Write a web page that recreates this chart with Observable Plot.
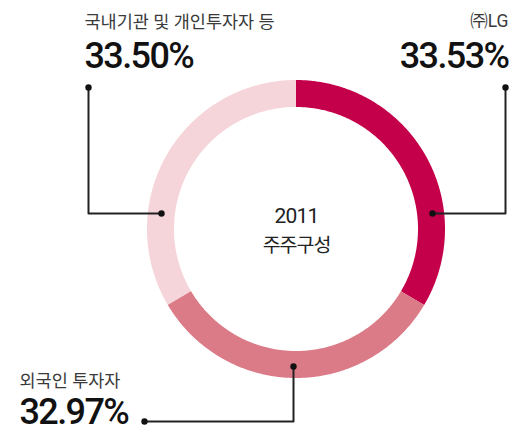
<!DOCTYPE html>
<html><head><meta charset="utf-8">
<script src="https://cdn.jsdelivr.net/npm/d3@7"></script>
<script src="https://cdn.jsdelivr.net/npm/@observablehq/plot@0.6"></script>
<style>
html,body{margin:0;padding:0;background:#fff;}
#chart{width:513px;height:431px;}
</style>
</head><body><div id="chart"></div>
<script>
// Data
const categories = ["㈜LG", "외국인 투자자", "국내기관 및 개인투자자 등"];
const shares = [33.53, 32.97, 33.50];
const valueLabels = ["33.53%", "32.97%", "33.50%"];
const colors = ["#C5004B", "#DC7B88", "#F5D5D9"];
const centerLines = ["2011", "주주구성"];

// Layout (pixels relative to donut centre, y downwards)
const R_OUT = 149, R_IN = 122;
const leaders = [
  [[136, -16], [209, -16], [209, -142]],
  [[-3, 137], [-3, 192], [-152, 192]],
  [[-135, -16], [-208, -16], [-208, -142]]
];
const labelPos = [
  {x: 212, y: -203, vy: -162, anchor: "end"},
  {x: -277, y: 157, vy: 194, anchor: "start"},
  {x: -212, y: -202, vy: -162, anchor: "start"}
];

// Build ring segments
const total = d3.sum(shares);
const ring = [];
let acc = 0;
categories.forEach((c, i) => {
  const a0 = acc / total * 2 * Math.PI;
  acc += shares[i];
  const a1 = acc / total * 2 * Math.PI;
  const n = Math.max(2, Math.ceil((a1 - a0) / (Math.PI / 360)));
  for (let k = 0; k <= n; k++) {
    const a = a0 + (a1 - a0) * k / n;
    ring.push({cat: c, xi: R_IN * Math.sin(a), yi: -R_IN * Math.cos(a),
               xo: R_OUT * Math.sin(a), yo: -R_OUT * Math.cos(a)});
  }
});

const leaderPts = leaders.flatMap((pts, i) => pts.map(([x, y]) => ({cat: categories[i], x, y})));
const leaderEnds = leaders.flatMap((pts, i) => [pts[0], pts[pts.length - 1]].map(([x, y]) => ({x, y})));
const labels = categories.map((c, i) => ({name: c, value: valueLabels[i], ...labelPos[i]}));

const kfont = "'Roboto', 'Noto Sans CJK KR', sans-serif";

const plot = Plot.plot({
  width: 513, height: 431,
  margin: 0,
  x: {domain: [-296, 217], range: [0, 513], axis: null},
  y: {domain: [-229, 202], range: [0, 431], axis: null},
  color: {domain: categories, range: colors},
  style: {background: "#fff"},
  marks: [
    Plot.area(ring, {x1: "xi", y1: "yi", x2: "xo", y2: "yo", z: "cat", fill: "cat"}),
    Plot.line(leaderPts, {x: "x", y: "y", z: "cat", stroke: "#222", strokeWidth: 2}),
    Plot.dot(leaderEnds, {x: "x", y: "y", r: 3.2, fill: "#111"}),
    Plot.text(labels, {x: "x", y: "y", text: "name", lineAnchor: "bottom",
      fontSize: 17.5, fill: "#3a3a3a", fontFamily: kfont}),
    Plot.text(labels, {x: "x", y: "vy", text: "value", lineAnchor: "bottom",
      fontSize: 36, fontWeight: 500, fill: "#111", fontFamily: kfont}),
    Plot.text([centerLines[0]], {x: () => 0, y: () => -7, text: d => d, lineAnchor: "bottom",
      fontSize: 21, fill: "#222", fontFamily: kfont}),
    Plot.text([centerLines[1]], {x: () => 0, y: () => 22, text: d => d, lineAnchor: "bottom",
      fontSize: 19.5, fill: "#222", fontFamily: kfont})
  ]
});
document.getElementById("chart").appendChild(plot);
// apply anchors & spacing
const svg = d3.select(plot);
svg.selectAll('g[font-size="36"] text').attr("text-anchor", d => labels[d] ? labels[d].anchor : null);
svg.selectAll('g[font-size="17.5"] text').attr("text-anchor", d => labels[d] ? labels[d].anchor : null);
svg.selectAll('g[font-size="36"]').attr("letter-spacing", "-1.6");
svg.selectAll('g[font-size="17.5"]').attr("letter-spacing", "0");
svg.selectAll('g[font-size="19.5"]').attr("letter-spacing", "-1");
svg.selectAll('g[font-size="21"]').attr("letter-spacing", "-0.8");
</script>
</body></html>
